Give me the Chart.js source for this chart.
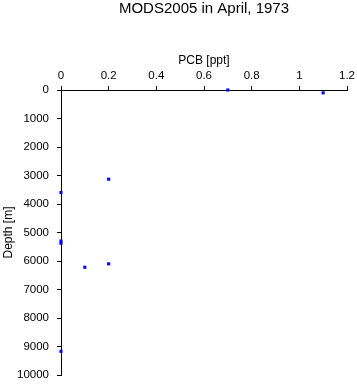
<!DOCTYPE html>
<html>
<head>
<meta charset="utf-8">
<script src="https://cdn.jsdelivr.net/npm/chart.js@4"></script>
<style>
html,body{margin:0;padding:0;background:#fff;}
#wrap{width:357px;height:384px;}
</style>
</head>
<body>
<div id="wrap"><canvas id="c" width="357" height="384"></canvas></div>
<script>
const titleText = "MODS2005 in April, 1973";
const xLabel = "PCB [ppt]";
const yLabel = "Depth [m]";
const pcb   = [0.7, 1.1, 0.2, 0, 0, 0, 0.1, 0.2, 0];
const depth = [0, 100, 3130, 3600, 5300, 5380, 6220, 6100, 9170];
const xTicks = [0, 0.2, 0.4, 0.6, 0.8, 1, 1.2];
const yTicks = [0, 1000, 2000, 3000, 4000, 5000, 6000, 7000, 8000, 9000, 10000];

const FONT = "'Liberation Sans', Arial, Helvetica, sans-serif";

const titlePlugin = {
  id: 'centerTitle',
  afterDraw(chart) {
    const ctx = chart.ctx, a = chart.chartArea;
    ctx.save();
    ctx.font = "15px " + FONT;
    ctx.fillStyle = "#000";
    ctx.textAlign = "center";
    ctx.textBaseline = "middle";
    ctx.fillText(titleText, (a.left + a.right) / 2, 9);
    ctx.restore();
  }
};

new Chart(document.getElementById('c'), {
  type: 'scatter',
  data: {
    datasets: [{
      data: pcb.map((v, i) => ({x: v, y: depth[i]})),
      pointStyle: 'rect',
      pointRadius: 2.2,
      pointHoverRadius: 2.2,
      borderWidth: 0,
      backgroundColor: '#0000ff',
      borderColor: '#0000ff',
      clip: false
    }]
  },
  options: {
    responsive: false,
    animation: false,
    events: [],
    layout: {padding: {top: 0, left: 0, right: 10, bottom: 9}},
    plugins: {legend: {display: false}, tooltip: {enabled: false}, title: {display: false}},
    scales: {
      x: {
        type: 'linear',
        position: 'top',
        min: 0, max: 1.2,
        afterBuildTicks: s => { s.ticks = xTicks.map(v => ({value: v})); },
        afterFit: s => { s.height = 90; s.paddingLeft = 0; s.paddingRight = 0; },
        ticks: {
          color: '#000', padding: 3, maxRotation: 0,
          font: {family: FONT, size: 11.5},
          callback: v => String(Number(v.toFixed(1)))
        },
        grid: {drawOnChartArea: false, drawTicks: true, tickLength: 4, color: '#000', lineWidth: 1},
        border: {display: true, color: '#000', width: 1},
        title: {display: true, text: xLabel, color: '#000', font: {family: FONT, size: 12}, padding: {top: 53, bottom: 0}}
      },
      y: {
        type: 'linear',
        reverse: true,
        min: 0, max: 10000,
        afterBuildTicks: s => { s.ticks = yTicks.map(v => ({value: v})); },
        afterFit: s => { s.width = 61; s.paddingTop = 0; s.paddingBottom = 0; },
        ticks: {
          color: '#000', padding: 8,
          font: {family: FONT, size: 11.5},
          callback: v => String(v)
        },
        grid: {drawOnChartArea: false, drawTicks: true, tickLength: 4, color: '#000', lineWidth: 1},
        border: {display: true, color: '#000', width: 1},
        title: {display: true, text: yLabel, color: '#000', font: {family: FONT, size: 12}, padding: {top: 1, bottom: 0}}
      }
    }
  },
  plugins: [titlePlugin]
});
</script>
</body>
</html>
